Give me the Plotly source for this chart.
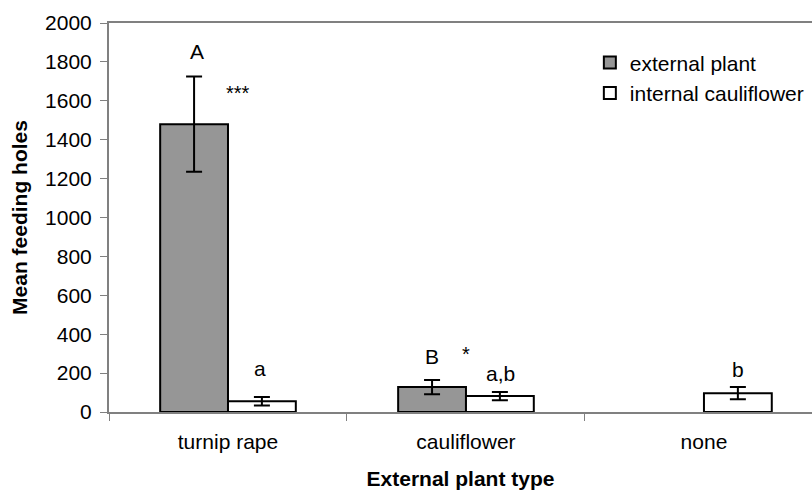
import plotly.graph_objects as go

# Feeding damage by external plant type
categories = ["turnip rape", "cauliflower", "none"]
external_plant = [1480, 128, None]
external_err = [245, 37, None]
internal_cauliflower = [55, 82, 97]
internal_err = [22, 21, 32]

# Significance letters / stars: (x position in category units, y value, text)
label_x = [-0.13, 0.04, 0.134, 0.857, 1.0, 1.143, 2.143]
label_y = [1853, 1640, 226, 283, 300, 200, 221]
label_text = ["A", "***", "a", "B", "*", "a,b", "b"]
label_size = [21, 20, 21, 21, 20, 21, 21]

FONT = "Liberation Sans, Arial, sans-serif"

fig = go.Figure()
fig.add_trace(go.Bar(
    x=categories, y=external_plant, name="external plant",
    marker=dict(color="#969696", line=dict(color="black", width=2)),
    error_y=dict(type="data", array=external_err, visible=True,
                 color="black", thickness=2, width=8),
))
fig.add_trace(go.Bar(
    x=categories, y=internal_cauliflower, name="internal cauliflower",
    marker=dict(color="white", line=dict(color="black", width=2)),
    error_y=dict(type="data", array=internal_err, visible=True,
                 color="black", thickness=2, width=8),
))

for xv, yv, t, s in zip(label_x, label_y, label_text, label_size):
    fig.add_annotation(x=xv, y=yv, xref="x", yref="y", text=t,
                       showarrow=False, font=dict(size=s, color="black", family=FONT))

fig.update_layout(
    width=812, height=490,
    margin=dict(l=109, r=0, t=23, b=78),
    paper_bgcolor="white", plot_bgcolor="white",
    barmode="group", bargap=0.43, bargroupgap=0,
    font=dict(family=FONT, size=21, color="black"),
    showlegend=True,
    legend=dict(x=0.684, y=0.95, xanchor="left", yanchor="top",
                bgcolor="rgba(0,0,0,0)", font=dict(size=21, family=FONT),
                itemwidth=30, tracegroupgap=0),
)
fig.update_xaxes(
    range=[-0.5, 2.454], showline=True, linecolor="#808080", linewidth=2,
    mirror=True, ticks="outside", tickson="boundaries", ticklen=7,
    tickcolor="#808080", tickwidth=1, showgrid=False, zeroline=False,
    tickfont=dict(size=21), ticklabelstandoff=10,
    title=dict(text="<b>External plant type</b>", font=dict(size=21), standoff=22),
)
fig.update_yaxes(
    range=[0, 2000], dtick=200, showline=True, linecolor="#808080", linewidth=2,
    ticks="outside", ticklen=7, tickcolor="#808080", tickwidth=1,
    showgrid=False, zeroline=False, tickfont=dict(size=21), ticklabelstandoff=4,
    title=dict(text="<b>Mean feeding holes</b>", font=dict(size=21), standoff=12),
)

fig.write_html("out.html")
